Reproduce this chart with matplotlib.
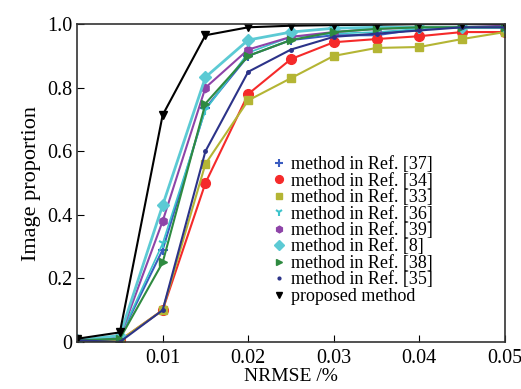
import matplotlib.pyplot as plt
import numpy as np

plt.rcParams['font.family'] = ['Liberation Serif', 'DejaVu Serif']
plt.rcParams['mathtext.fontset'] = 'stix'

# NRMSE thresholds
nrmse = [0, 0.005, 0.01, 0.015, 0.02, 0.025, 0.03, 0.035, 0.04, 0.045, 0.05]

# image proportion for each method
ref37 = [0.005, 0.015, 0.29, 0.735, 0.90, 0.95, 0.965, 0.965, 0.985, 0.99, 0.99]
ref34 = [0.005, 0.005, 0.10, 0.50, 0.78, 0.89, 0.943, 0.953, 0.962, 0.975, 0.975]
ref33 = [0.005, 0.005, 0.10, 0.56, 0.76, 0.83, 0.90, 0.925, 0.928, 0.953, 0.975]
ref36 = [0.005, 0.015, 0.31, 0.73, 0.91, 0.96, 0.97, 0.975, 0.985, 0.99, 0.99]
ref39 = [0.005, 0.015, 0.38, 0.80, 0.92, 0.96, 0.975, 0.985, 0.99, 0.99, 0.995]
ref8 = [0.005, 0.02, 0.43, 0.833, 0.95, 0.975, 0.987, 0.99, 0.99, 0.99, 0.99]
ref38 = [0.005, 0.01, 0.25, 0.75, 0.90, 0.95, 0.975, 0.985, 0.99, 0.99, 0.99]
ref35 = [0.005, 0.0, 0.10, 0.60, 0.85, 0.92, 0.96, 0.97, 0.98, 0.99, 0.99]
proposed = [0.01, 0.03, 0.714, 0.965, 0.99, 0.995, 0.997, 0.998, 1.0, 1.0, 1.0]

labels = ['method in Ref. [37]', 'method in Ref. [34]', 'method in Ref. [33]',
          'method in Ref. [36]', 'method in Ref. [39]', 'method in Ref. [8]',
          'method in Ref. [38]', 'method in Ref. [35]', 'proposed method']
series = [ref37, ref34, ref33, ref36, ref39, ref8, ref38, ref35, proposed]
colors = ['#3a5cc0', '#f52a2a', '#b4b534', '#3fc4cc', '#8e44a8',
          '#5ccad4', '#2e8a40', '#2c3389', '#000000']
markers = ['+', 'o', 's', '1', 'h', 'D', '>', '.', 'v']
msizes = [7, 7, 6, 7, 6, 6, 6, 5, 6]
lwidths = [1.5, 1.5, 1.5, 1.2, 1.5, 2.0, 1.5, 1.5, 1.5]

fig = plt.figure(figsize=(5.21, 3.89), dpi=100)
ax = fig.add_axes([0.148, 0.121, 0.821, 0.817])

for y, lab, c, m, ms, lw in zip(series, labels, colors, markers, msizes, lwidths):
    ax.plot(nrmse, y, color=c, marker=m, markersize=ms, linewidth=lw,
            markeredgewidth=1.5 if m in ['+', '1'] else 1.0, label=lab)

ax.set_xlim(0, 0.05)
ax.set_ylim(0, 1.0)
ax.set_xticks([0.01, 0.02, 0.03, 0.04, 0.05])
ax.set_xticklabels(['0.01', '0.02', '0.03', '0.04', '0.05'])
ax.set_yticks([0, 0.2, 0.4, 0.6, 0.8, 1.0])
ax.set_yticklabels(['0', '0.2', '0.4', '0.6', '0.8', '1.0'])
ax.tick_params(direction='in', labelsize=14.5, length=5, top=False, right=False)
ax.tick_params(axis='x', pad=5)
for s in ax.spines.values():
    s.set_linewidth(1.2)
    s.set_color('#333333')

ax.set_xlabel('NRMSE /%', fontsize=14, labelpad=0)
ax.set_ylabel('Image proportion', fontsize=16, labelpad=4)

# legend shows markers only
handles, labs = ax.get_legend_handles_labels()
leg = ax.legend(handles, labs, loc='lower left', bbox_to_anchor=(0.43, 0.077),
                frameon=False, fontsize=13, handlelength=0.6, handletextpad=0.35,
                labelspacing=-0.03, borderpad=0.2, markerscale=0.8)
for h in leg.legend_handles:
    h.set_linestyle('none')

plt.savefig('out.png', dpi=100)
